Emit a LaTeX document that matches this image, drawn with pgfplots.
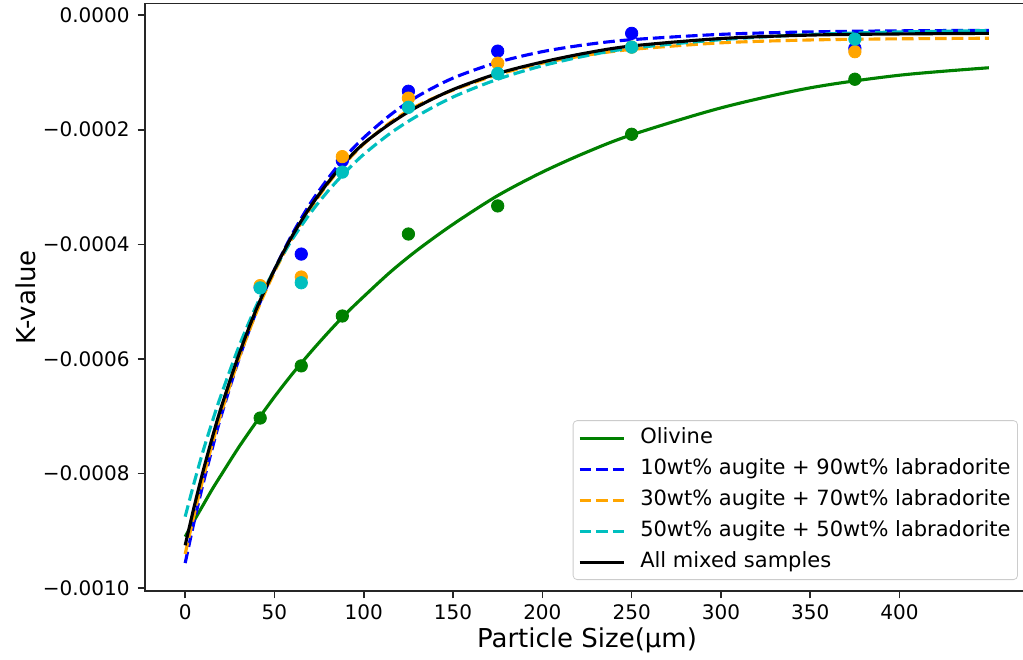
\documentclass[border=0pt]{standalone}
\usepackage{fontspec}
\setmainfont{DejaVu Sans}
\usepackage{pgfplots}
\pgfplotsset{compat=1.18}
\usetikzlibrary{calc}
\definecolor{mplgreen}{rgb}{0,0.5,0}
\definecolor{mplblue}{rgb}{0,0,1}
\definecolor{mplorange}{rgb}{1,0.647,0}
\definecolor{mplcyan}{rgb}{0,0.75,0.75}
\begin{document}
\begin{tikzpicture}
\begin{axis}[
  scale only axis,
  width=442pt, height=293.75pt,
  xmin=-22.5, xmax=472.5,
  ymin=-0.0010047, ymax=0.0000201,
  xtick={0,50,100,150,200,250,300,350,400},
  xticklabels={0,50,100,150,200,250,300,350,400},
  ytick={-0.001,-0.0008,-0.0006,-0.0004,-0.0002,0},
  yticklabels={−0.0010,−0.0008,−0.0006,−0.0004,−0.0002,0.0000},
  scaled y ticks=false,
  tick align=outside, xtick pos=bottom, ytick pos=left,
  major tick length=3.65pt,
  every tick/.style={black!85, line width=0.83pt},
  axis line style={black!85, line width=0.83pt},
  tick label style={font=\fontsize{10}{12}\selectfont},
  every x tick label/.style={anchor=north, inner sep=0pt, yshift=-2.85pt},
  every y tick label/.style={anchor=east, inner sep=0pt, xshift=-3.85pt},
  xlabel={Particle Size(μm)},
  ylabel={K-value},
  every axis x label/.style={at={(axis description cs:0.5,-0.084)}, anchor=center, font=\fontsize{13}{15.6}\selectfont},
  every axis y label/.style={at={(axis description cs:-0.1346,0.5)}, rotate=90, anchor=center, font=\fontsize{13}{15.6}\selectfont},
  legend style={at={(0.9875,0.0187)}, anchor=south east, draw=black!20, fill=white, rounded corners=2pt,
    font=\fontsize{10.5}{12.6}\selectfont, inner xsep=2.5pt, inner ysep=2.5pt, row sep=3pt,
    nodes={inner sep=1pt, text height=8pt, text depth=2.5pt},
    /tikz/every odd column/.append style={column sep=6.5pt}},
  legend cell align=left,
  legend image code/.code={\draw[#1] (0pt,0pt) -- (22pt,0pt);},
]
\coordinate (bl) at (rel axis cs:0,0);

% fitted curves
\addplot[mplgreen, line width=1.56pt, smooth] coordinates {
(0,-0.000910) (5,-0.000882) (10,-0.000855) (15,-0.000828) (20,-0.000803) (30,-0.000754)
(40,-0.000709) (50,-0.000666) (60,-0.000626) (70,-0.000589) (80,-0.000554) (90,-0.000521)
(100,-0.000491) (115,-0.000448) (130,-0.000410) (150,-0.000365) (175,-0.000315) (200,-0.000274)
(225,-0.000239) (250,-0.000209) (300,-0.000162) (350,-0.000127) (400,-0.000105) (450,-0.000092)};
\addlegendentry{Olivine}

\addplot[mplblue, line width=1.56pt, smooth, dash pattern=on 5.8pt off 2.5pt] coordinates {
(0,-0.000956) (5,-0.000884) (10,-0.000818) (15,-0.000758) (20,-0.000701) (30,-0.000601)
(40,-0.000516) (50,-0.000444) (60,-0.000382) (70,-0.000329) (80,-0.000285) (90,-0.000246)
(100,-0.000214) (115,-0.000174) (130,-0.000142) (150,-0.000110) (175,-0.0000825) (200,-0.0000639)
(225,-0.0000514) (250,-0.000043) (300,-0.0000337) (350,-0.0000294) (400,-0.0000276) (450,-0.0000267)};
\addlegendentry{10wt\% augite + 90wt\% labradorite}

\addplot[mplorange, line width=1.56pt, smooth, dash pattern=on 5.8pt off 2.5pt] coordinates {
(0,-0.000940) (5,-0.000872) (10,-0.000809) (15,-0.000750) (20,-0.000696) (30,-0.000600)
(40,-0.000518) (50,-0.000448) (60,-0.000389) (70,-0.000338) (80,-0.000294) (90,-0.000257)
(100,-0.000225) (115,-0.000187) (130,-0.000158) (150,-0.000131) (175,-0.000104) (200,-0.000084)
(225,-0.000070) (250,-0.000060) (300,-0.0000485) (350,-0.0000435) (400,-0.0000415) (450,-0.0000405)};
\addlegendentry{30wt\% augite + 70wt\% labradorite}

\addplot[mplcyan, line width=1.56pt, smooth, dash pattern=on 5.8pt off 2.5pt] coordinates {
(0,-0.000875) (5,-0.000816) (10,-0.000761) (15,-0.000711) (20,-0.000664) (30,-0.000579)
(40,-0.000506) (50,-0.000444) (60,-0.000391) (70,-0.000346) (80,-0.000307) (90,-0.000273)
(100,-0.000243) (115,-0.000206) (130,-0.000176) (150,-0.000143) (175,-0.000112) (200,-0.0000885)
(225,-0.0000708) (250,-0.0000579) (300,-0.000043) (350,-0.000034) (400,-0.0000295) (450,-0.0000272)};
\addlegendentry{50wt\% augite + 50wt\% labradorite}

\addplot[black, line width=1.56pt, smooth] coordinates {
(0,-0.000925) (5,-0.000858) (10,-0.000796) (15,-0.000739) (20,-0.000686) (30,-0.000593)
(40,-0.000512) (50,-0.000444) (60,-0.000385) (70,-0.000335) (80,-0.000292) (90,-0.000255)
(100,-0.000224) (115,-0.000189) (130,-0.000160) (150,-0.000130) (175,-0.000102) (200,-0.000082)
(225,-0.000066) (250,-0.000054) (300,-0.000041) (350,-0.000035) (400,-0.000033) (450,-0.000032)};
\addlegendentry{All mixed samples}

% measured points
\addplot[only marks, mark=*, mark size=3.1pt, mplgreen, forget plot] coordinates {
(42,-0.000703) (65,-0.000612) (88,-0.000525) (125,-0.000382) (175,-0.000333) (250,-0.000208) (375,-0.000112)};
\addplot[only marks, mark=*, mark size=3.1pt, mplblue, forget plot] coordinates {
(42,-0.000475) (65,-0.000417) (88,-0.000254) (125,-0.000133) (175,-0.000063) (250,-0.000032) (375,-0.000058)};
\addplot[only marks, mark=*, mark size=3.1pt, mplorange, forget plot] coordinates {
(42,-0.000472) (65,-0.000457) (88,-0.000247) (125,-0.000145) (175,-0.000084) (250,-0.000056) (375,-0.000064)};
\addplot[only marks, mark=*, mark size=3.1pt, mplcyan, forget plot] coordinates {
(42,-0.000476) (65,-0.000467) (88,-0.000274) (125,-0.000161) (175,-0.000102) (250,-0.000056) (375,-0.000042)};
\end{axis}
\pgfresetboundingbox
\path[use as bounding box] ($(bl)+(-72.5pt,-34pt)$) rectangle ($(bl)+(439pt,295.5pt)$);
\end{tikzpicture}
\end{document}
